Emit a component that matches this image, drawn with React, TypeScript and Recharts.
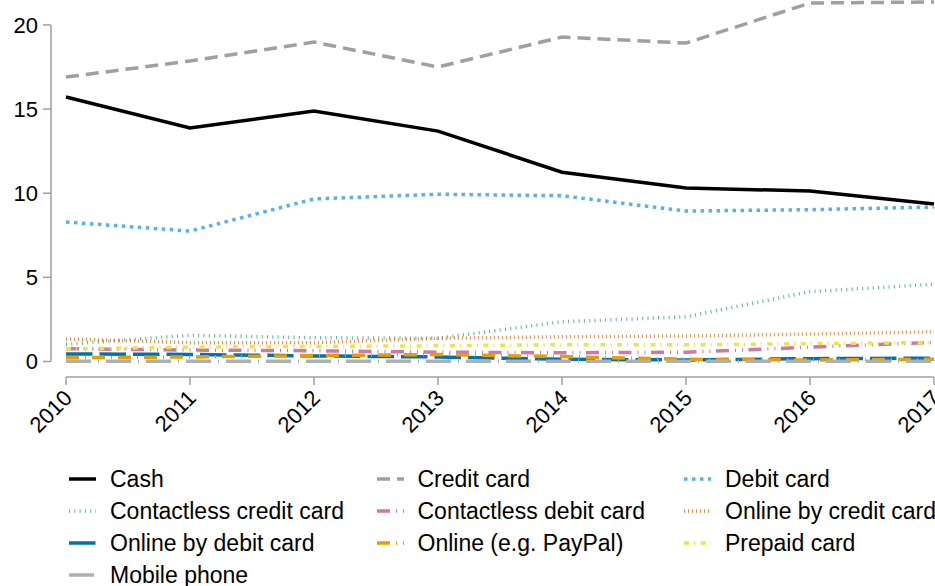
import { Legend, Line, LineChart, XAxis, YAxis } from "recharts";

const YEARS = [2010, 2011, 2012, 2013, 2014, 2015, 2016, 2017];
const Y_TICKS = [0, 5, 10, 15, 20];

const CASH = [15.72, 13.88, 14.88, 13.69, 11.25, 10.31, 10.13, 9.36];
const CREDIT_CARD = [16.9, 17.86, 18.98, 17.5, 19.28, 18.92, 21.3, 21.36];
const DEBIT_CARD = [8.29, 7.75, 9.66, 9.94, 9.85, 8.94, 9.02, 9.18];
const CONTACTLESS_CREDIT = [1.02, 1.56, 1.41, 1.38, 2.36, 2.66, 4.15, 4.59];
const CONTACTLESS_DEBIT = [0.76, 0.68, 0.64, 0.55, 0.52, 0.55, 0.85, 1.13];
const ONLINE_CREDIT = [1.34, 1.12, 1.12, 1.38, 1.47, 1.52, 1.63, 1.77];
const ONLINE_DEBIT = [0.45, 0.42, 0.33, 0.27, 0.13, 0.09, 0.17, 0.2];
const ONLINE_PAYPAL = [0.22, 0.27, 0.35, 0.42, 0.29, 0.13, 0.09, 0.13];
const PREPAID = [0.76, 0.85, 0.9, 0.93, 1.0, 0.99, 1.06, 1.13];
const MOBILE = [0.01, 0.01, 0.01, 0.01, 0.01, 0.01, 0.02, 0.02];

const data = YEARS.map((year, i) => ({
  year,
  cash: CASH[i],
  credit: CREDIT_CARD[i],
  debit: DEBIT_CARD[i],
  cCredit: CONTACTLESS_CREDIT[i],
  cDebit: CONTACTLESS_DEBIT[i],
  oCredit: ONLINE_CREDIT[i],
  oDebit: ONLINE_DEBIT[i],
  paypal: ONLINE_PAYPAL[i],
  prepaid: PREPAID[i],
  mobile: MOBILE[i],
}));

// line styles, in legend order (3 columns)
const SERIES = [
  { key: "cash", name: "Cash", color: "#000000", width: 3.5, dash: undefined, opacity: 1 },
  { key: "credit", name: "Credit card", color: "#a0a0a0", width: 3.5, dash: "13 7", opacity: 1 },
  { key: "debit", name: "Debit card", color: "#56b4e9", width: 3.5, dash: "3.5 4.5", opacity: 1 },
  { key: "cCredit", name: "Contactless credit card", color: "#009e73", width: 3.5, dash: "1 4.3", opacity: 0.7 },
  { key: "cDebit", name: "Contactless debit card", color: "#cc79a7", width: 3.5, dash: "13 6 1 6 1 5.5", opacity: 1 },
  { key: "oCredit", name: "Online by credit card", color: "#d55e00", width: 3.5, dash: "1 3", opacity: 0.7 },
  { key: "oDebit", name: "Online by debit card", color: "#0072b2", width: 3.5, dash: "26.5 7", opacity: 1 },
  { key: "paypal", name: "Online (e.g. PayPal)", color: "#e69f00", width: 3.5, dash: "13 6 1 6", opacity: 1 },
  { key: "prepaid", name: "Prepaid card", color: "#f0e442", width: 3.5, dash: "5 5 1 5.7", opacity: 1 },
  { key: "mobile", name: "Mobile phone", color: "#b0b0b0", width: 3.5, dash: "25 7 1 7", opacity: 1 },
];

const FONT = '"Liberation Sans", Arial, sans-serif';
const AXIS = "#a0a0a0";

const XTick = (props: any) => {
  const { x, y, payload } = props;
  return (
    <text
      x={x + 2}
      y={y + 7}
      dy="0.35em"
      textAnchor="end"
      fontSize={22}
      fontFamily={FONT}
      fill="#000"
      transform={`rotate(-45, ${x + 2}, ${y + 7})`}
    >
      {payload.value}
    </text>
  );
};

const renderLegend = () => (
  <div style={{ position: "relative", width: 935, height: 123, fontFamily: FONT, fontSize: 23 }}>
    {SERIES.map((s, i) => (
      <div
        key={s.key}
        style={{
          position: "absolute",
          left: 69 + (i % 3) * 307.5,
          top: Math.floor(i / 3) * 32,
          height: 32,
          display: "flex",
          alignItems: "center",
          whiteSpace: "nowrap",
          color: "#000",
        }}
      >
        <svg width={27} height={8}>
          <line
            x1={0}
            y1={4}
            x2={27}
            y2={4}
            stroke={s.color}
            strokeOpacity={s.opacity}
            strokeWidth={s.width}
            strokeDasharray={s.dash}
          />
        </svg>
        <span style={{ marginLeft: 14 }}>{s.name}</span>
      </div>
    ))}
  </div>
);

export default function App() {
  return (
    <div style={{ position: "absolute", left: 0, top: 0, width: 935, height: 586, background: "#fff" }}>
      <LineChart width={935} height={586} data={data} margin={{ top: 0, right: 1, bottom: 0, left: 0 }}>
        <XAxis
          dataKey="year"
          type="number"
          domain={[2010, 2017]}
          ticks={YEARS}
          interval={0}
          padding={{ left: 15, right: 0 }}
          height={86}
          tickSize={8}
          axisLine={{ stroke: AXIS, strokeWidth: 1.5, strokeDasharray: "0 15 2000" }}
          tickLine={{ stroke: AXIS, strokeWidth: 1.5 }}
          tick={<XTick />}
        />
        <YAxis
          type="number"
          domain={[0, 21.48]}
          ticks={Y_TICKS}
          interval={0}
          width={51}
          padding={{ top: 0, bottom: 15.5 }}
          tickSize={8}
          tickMargin={5}
          axisLine={{ stroke: AXIS, strokeWidth: 1.5, strokeDasharray: "0 25 336.5 100" }}
          tickLine={{ stroke: AXIS, strokeWidth: 1.5 }}
          tick={{ fontSize: 22, fontFamily: FONT, fill: "#000" }}
        />
        <Legend
          verticalAlign="bottom"
          content={renderLegend}
          wrapperStyle={{ left: 0, top: 463, width: 935, height: 123 }}
        />
        {SERIES.map((s) => (
          <Line
            key={s.key}
            dataKey={s.key}
            name={s.name}
            type="linear"
            stroke={s.color}
            strokeOpacity={s.opacity}
            strokeWidth={s.width}
            strokeDasharray={s.dash}
            dot={false}
            activeDot={false}
            isAnimationActive={false}
          />
        ))}
      </LineChart>
    </div>
  );
}
